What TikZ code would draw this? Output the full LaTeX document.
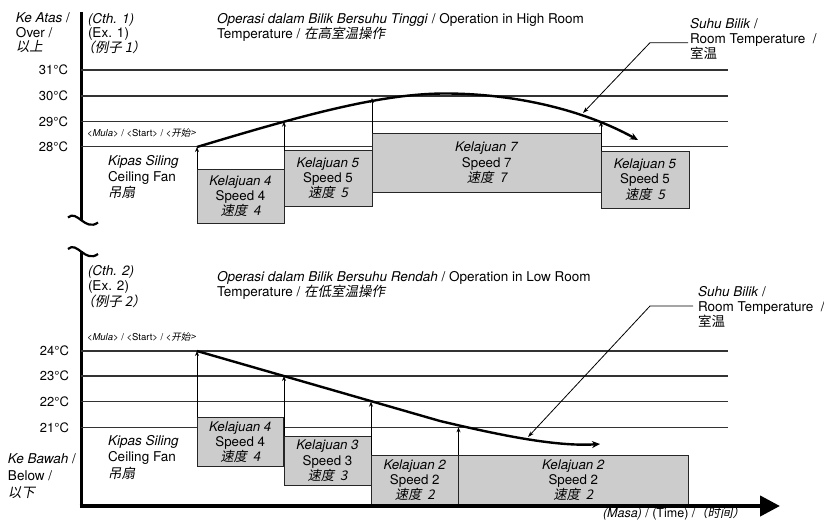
\documentclass[tikz,border=0pt]{standalone}
\usepackage{fontspec}
\setmainfont{TeX Gyre Heros}
\newfontfamily\cjk{Noto Sans CJK SC}
\newfontfamily\cjki[FakeSlant=0.2]{Noto Sans CJK SC}
\usetikzlibrary{arrows.meta}
\begin{document}
\begin{tikzpicture}[x=1pt,y=-1pt,
  txt/.style={inner sep=0pt, outer sep=0pt, font=\fontsize{13.5}{15}\selectfont, align=left, anchor=north west},
  tmp/.style={inner sep=0pt, outer sep=0pt, font=\fontsize{13}{15}\selectfont, anchor=east},
  mula/.style={inner sep=0pt, outer sep=0pt, font=\fontsize{9.5}{11}\selectfont, anchor=west},
  spd/.style={draw=black!85, fill=black!20, line width=0.9pt, inner sep=0pt, outer sep=0pt, align=center,
              font=\fontsize{13.3}{15.3}\selectfont, anchor=north west},
  gline/.style={line width=1.2pt, draw=black!80},
  axisline/.style={line width=3pt},
  tcurve/.style={line width=2.4pt, -{Stealth[length=8pt,width=7pt]}},
  uparr/.style={line width=0.9pt, -{Stealth[length=5pt,width=4pt]}},
  lead/.style={line width=0.8pt, -{Stealth[length=6pt,width=4pt]}}
]
\useasboundingbox (0,0) rectangle (824,527);

% ================= TOP (Example 1) =================
\coordinate (ta0) at (81,12);
\coordinate (ta1) at (81,220);
\draw[axisline] (ta0) -- (ta1);
\draw[line width=2.2pt] (68,217.5) .. controls (77,209) and (85,232) .. (98,222.5);

\foreach \yy in {70,96,121.7,146.7} \draw[gline] (81,\yy) -- (728,\yy);
\node[tmp] (t31) at (68,70) {31°C};
\node[tmp] (t30) at (68,96) {30°C};
\node[tmp] (t29) at (68,121.7) {29°C};
\node[tmp] (t28) at (68,146.7) {28°C};

\node[txt, font=\fontsize{13.5}{14.5}\selectfont] (keatas) at (16,13) {\textit{Ke Atas} /\\Over /\\\cjki{以上}};
\node[txt, font=\fontsize{13.5}{14.5}\selectfont] (cth1) at (88,13) {\textit{(Cth. 1)}\\(Ex. 1)\\\kern-0.5em\cjki{（例子 1）}};
\node[txt] (op1) at (217,13) {\textit{Operasi dalam Bilik Bersuhu Tinggi} / Operation in High Room\\Temperature / \cjki{在高室温操作}};
\node[txt] (sb1) at (690,18) {\textit{Suhu Bilik} /\\Room Temperature \ /\\\cjk{室温}};
\node[mula] (mula1) at (87,132.7) {<\textit{Mula}> / <Start> / <\cjki{开始}>};
\node[txt, font=\fontsize{13.5}{16}\selectfont] (kip1) at (108,155) {\textit{Kipas Siling}\\Ceiling Fan\\\cjki{吊扇}};

\node[spd, minimum width=87pt, minimum height=54pt] (b4t) at (197,169) {\textit{Kelajuan 4}\\Speed 4\\\cjki{速度}\textit{ \ 4}};
\node[spd, minimum width=88pt, minimum height=55.5pt] (b5t) at (284,150.5) {\textit{Kelajuan 5}\\Speed 5\\\cjki{速度}\textit{ \ 5}};
\node[spd, minimum width=229.5pt, minimum height=59pt] (b7t) at (372,133.3) {\textit{Kelajuan 7}\\Speed 7\\\cjki{速度}\textit{ \ 7}};
\node[spd, minimum width=88pt, minimum height=57pt] (b5r) at (601,151) {\textit{Kelajuan 5}\\Speed 5\\\cjki{速度}\textit{ \ 5}};

\coordinate (ts) at (197,147);
\coordinate (tp) at (445,93.5);
\coordinate (te) at (638,140);
\draw[tcurve] (ts) .. controls (300,116) and (380,93.5) .. (tp) .. controls (510,93.5) and (580,108) .. (te);

\coordinate (tu5) at (284,121.7);
\coordinate (tu7) at (372,98);
\coordinate (tur) at (601,121.7);
\draw[uparr] (b4t.north west) -- (ts);
\draw[uparr] (b5t.north west) -- (tu5);
\draw[uparr] (b7t.north west) -- (tu7);
\draw[uparr] (b5r.north west) -- (tur);

\coordinate (tl0) at (688,42.7);
\coordinate (tl1) at (650,42.7);
\coordinate (tl2) at (583,113);
\draw[lead] (tl0) -- (tl1) -- (tl2);

% ================= BOTTOM (Example 2) =================
\coordinate (ba0) at (81,251);
\coordinate (ba1) at (81,508);
\draw[axisline] (ba0) -- (ba1);
\draw[line width=2.2pt] (68,249) .. controls (77,240.5) and (85,263.5) .. (98,254);

\foreach \yy in {351,376,401.7,427.3} \draw[gline] (81,\yy) -- (728,\yy);
\node[tmp] (t24) at (69,351) {24°C};
\node[tmp] (t23) at (69,376) {23°C};
\node[tmp] (t22) at (69,401.7) {22°C};
\node[tmp] (t21) at (69,427.3) {21°C};

\node[txt, font=\fontsize{13.5}{15.5}\selectfont] (cth2) at (88,265) {\textit{(Cth. 2)}\\(Ex. 2)\\\kern-0.5em\cjki{（例子 2）}};
\node[txt] (op2) at (217,271.7) {\textit{Operasi dalam Bilik Bersuhu Rendah} / Operation in Low Room\\Temperature / \cjki{在低室温操作}};
\node[txt] (sb2) at (698,286.7) {\textit{Suhu Bilik} /\\Room Temperature \ /\\\cjk{室温}};
\node[mula] (mula2) at (87,337) {<\textit{Mula}> / <Start> / <\cjki{开始}>};
\node[txt, font=\fontsize{13.5}{16.5}\selectfont] (kip2) at (108,435) {\textit{Kipas Siling}\\Ceiling Fan\\\cjki{吊扇}};
\node[txt, font=\fontsize{13.5}{17}\selectfont] (kebawah) at (8,454) {\textit{Ke Bawah} /\\Below /\\\cjki{以下}};

\node[spd, minimum width=86.5pt, minimum height=49.4pt] (b4b) at (197,417.3) {\textit{Kelajuan 4}\\Speed 4\\\cjki{速度}\textit{ \ 4}};
\node[spd, minimum width=87pt, minimum height=49.7pt] (b3b) at (284,436) {\textit{Kelajuan 3}\\Speed 3\\\cjki{速度}\textit{ \ 3}};
\node[spd, minimum width=87.5pt, minimum height=50pt] (b2b) at (371,455) {\textit{Kelajuan 2}\\Speed 2\\\cjki{速度}\textit{ \ 2}};
\node[spd, minimum width=229.7pt, minimum height=50pt] (b2w) at (458.5,455) {\textit{Kelajuan 2}\\Speed 2\\\cjki{速度}\textit{ \ 2}};

\coordinate (hx0) at (79.5,506);
\coordinate (hx1) at (780,506);
\draw[line width=4.2pt, -{Triangle[length=20pt,width=20pt]}] (hx0) -- (hx1);
\node[inner sep=0pt, outer sep=0pt, font=\fontsize{12.5}{14}\selectfont, anchor=base west] (masa) at (603,517) {\textit{(Masa)} / (Time) / \kern-0.3em\cjki{（时间）}};

\coordinate (bs) at (197,351);
\coordinate (bm) at (440,421);
\coordinate (be) at (600,444);
\draw[tcurve] (bs) -- (bm) .. controls (495,434) and (555,447) .. (be);

\coordinate (bu3) at (284,376);
\coordinate (bu2) at (371,401.7);
\coordinate (bu2w) at (458.5,427.3);
\draw[uparr] (b4b.north west) -- (bs);
\draw[uparr] (b3b.north west) -- (bu3);
\draw[uparr] (b2b.north west) -- (bu2);
\draw[uparr] (b2w.north west) -- (bu2w);

\coordinate (bl0) at (693,306);
\coordinate (bl1) at (650,306);
\coordinate (bl2) at (528,437);
\draw[lead] (bl0) -- (bl1) -- (bl2);
\end{tikzpicture}
\end{document}
